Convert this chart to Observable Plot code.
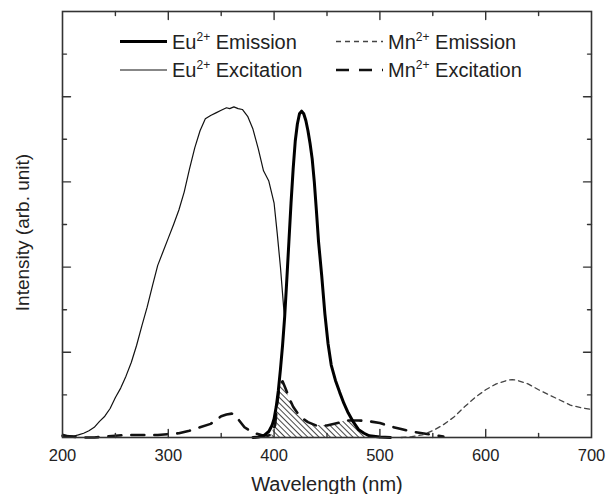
<!DOCTYPE html>
<html><head><meta charset="utf-8">
<script src="https://cdn.jsdelivr.net/npm/d3@7"></script>
<script src="https://cdn.jsdelivr.net/npm/@observablehq/plot@0.6"></script>
<style>body{margin:0;background:#fff}#chart{width:615px;height:494px}</style>
</head><body><div id="chart"></div>
<script>
// ---- data ----
const euExNm  = [200,205,210,215,220,225,230,235,240,245,250,255,260,265,270,275,280,285,290,295,300,305,310,315,320,325,330,335,340,345,350,355,358,362,366,370,375,380,385,390,395,400,403,406,409,410];
const euExVal = [0.04,0.02,0.015,0.03,0.05,0.08,0.12,0.19,0.25,0.34,0.47,0.58,0.72,0.88,1.08,1.31,1.53,1.78,2.02,2.18,2.34,2.5,2.67,2.88,3.15,3.4,3.6,3.74,3.78,3.81,3.84,3.87,3.86,3.88,3.86,3.85,3.77,3.62,3.39,3.13,3.01,2.75,2.39,2.0,1.53,1.42];

const euEmNm  = [380,385,390,395,398,400,402,404,406,408,410,412,414,416,418,420,422,424,426,428,430,432,434,436,438,440,442,445,448,451,454,458,462,466,470,475,480,485,490,500,510];
const euEmVal = [0,0.005,0.02,0.07,0.14,0.22,0.36,0.55,0.8,1.08,1.42,1.85,2.3,2.75,3.15,3.48,3.68,3.8,3.83,3.8,3.72,3.6,3.45,3.27,3.0,2.66,2.3,1.9,1.45,1.1,0.85,0.67,0.53,0.4,0.29,0.18,0.09,0.05,0.02,0.005,0];

const mnExNm  = [200,210,220,230,240,250,260,270,280,290,300,310,320,330,340,345,350,355,360,363,367,372,377,382,388,394,398,401,403,405,408,411,414,418,422,426,432,440,450,460,470,480,490,500,510,520,530,540,550,560];
const mnExVal = [0.02,0.01,0,0,0.01,0.02,0.03,0.03,0.03,0.03,0.04,0.05,0.08,0.12,0.16,0.2,0.25,0.27,0.28,0.27,0.2,0.12,0.08,0.05,0.03,0.02,0.04,0.15,0.4,0.6,0.66,0.57,0.47,0.36,0.29,0.23,0.18,0.14,0.14,0.17,0.2,0.2,0.19,0.17,0.13,0.1,0.07,0.05,0.03,0.01];

const mnEmNm  = [520,530,540,550,560,570,580,590,600,610,620,625,630,640,650,660,670,680,690,700];
const mnEmVal = [0,0.01,0.03,0.08,0.15,0.24,0.36,0.47,0.56,0.63,0.67,0.68,0.67,0.63,0.56,0.5,0.44,0.38,0.35,0.33];

const xTickLabels = [200,300,400,500,600,700];
const xMajorTicks = [300,400,500,600];
const xMinorTicks = [250,350,450,550,650];
const yMajorTicks = [1,2,3,4];
const yMinorTicks = [0.5,1.5,2.5,3.5,4.5];
const xTitle = "Wavelength (nm)";
const yTitle = "Intensity (arb. unit)";
const legendLabels = [
  {ion:"Eu", charge:"2+", name:" Emission"},
  {ion:"Eu", charge:"2+", name:" Excitation"},
  {ion:"Mn", charge:"2+", name:" Emission"},
  {ion:"Mn", charge:"2+", name:" Excitation"}
];

// ---- build tables ----
const rows = (nm, v) => nm.map((x, i) => ({x, y: v[i]}));
const euEx = rows(euExNm, euExVal);
const euEm = rows(euEmNm, euEmVal);
const mnEx = rows(mnExNm, mnExVal);
const mnEm = rows(mnEmNm, mnEmVal);

// overlap (hatched) = area under the lower of Eu emission and Mn excitation
const fEm = d3.scaleLinear().domain(euEmNm).range(euEmVal).clamp(true);
const fMn = d3.scaleLinear().domain(mnExNm).range(mnExVal).clamp(true);
const grid = Array.from(new Set([...euEmNm, ...mnExNm].filter(x => x >= 396 && x <= 495))).sort((a,b)=>a-b);
const overlap = grid.map(x => ({x, y: Math.min(fEm(x), fMn(x))}));

const styles = {
  euEm: {stroke:"#000", strokeWidth:3, strokeDasharray:null},
  euEx: {stroke:"#111", strokeWidth:1.2, strokeDasharray:null},
  mnEm: {stroke:"#444", strokeWidth:1.3, strokeDasharray:"5,4"},
  mnEx: {stroke:"#111", strokeWidth:2.6, strokeDasharray:"13,10"}
};

const shape = (dx, dy) => ({draw(ctx, l){ ctx.moveTo(0,0); ctx.lineTo(dx*l, dy*l); }});
const tickStyle = {stroke:"#333", strokeWidth:1.4, anchor:"start"};
const ticks = [];
for (const [vals, len] of [[xMajorTicks, 8],[xMinorTicks, 4]]) {
  ticks.push(Plot.vector(vals, {x: d=>d, frameAnchor:"bottom", length: len, shape: shape(0,-1), ...tickStyle}));
  ticks.push(Plot.vector(vals, {x: d=>d, frameAnchor:"top", length: len, shape: shape(0,1), ...tickStyle}));
}
for (const [vals, len] of [[yMajorTicks, 8],[yMinorTicks, 4]]) {
  ticks.push(Plot.vector(vals, {y: d=>d, frameAnchor:"left", length: len, shape: shape(1,0), ...tickStyle}));
  ticks.push(Plot.vector(vals, {y: d=>d, frameAnchor:"right", length: len, shape: shape(-1,0), ...tickStyle}));
}

const font = "'Liberation Sans', Arial, Helvetica, sans-serif";
const plot = Plot.plot({
  width: 615, height: 494,
  marginLeft: 62, marginRight: 24, marginTop: 11, marginBottom: 57,
  x: {domain: [200, 700], axis: null},
  y: {domain: [0, 5], axis: null},
  style: {fontFamily: font, background: "#fff", overflow: "visible"},
  marks: [
    Plot.areaY(overlap, {x:"x", y:"y", fill:"url(#hatch)"}),
    Plot.line(mnEx, {x:"x", y:"y", ...styles.mnEx}),
    Plot.line(mnEm, {x:"x", y:"y", ...styles.mnEm}),
    Plot.line(euEx, {x:"x", y:"y", ...styles.euEx}),
    Plot.line(euEm, {x:"x", y:"y", ...styles.euEm}),
    Plot.frame({stroke:"#333", strokeWidth:1.6}),
    ...ticks,
    Plot.text(xTickLabels, {x: d=>d, text: d=>String(d), frameAnchor:"bottom", dy:18, lineAnchor:"middle", textAnchor:"middle", fontSize:16.5, fill:"#222"}),
    Plot.text([xTitle], {text: d=>d, frameAnchor:"bottom", dy:47, lineAnchor:"middle", textAnchor:"middle", fontSize:20, fill:"#222"}),
    Plot.text([yTitle], {text: d=>d, frameAnchor:"left", dx:-40, dy:8, rotate:-90, lineAnchor:"middle", textAnchor:"middle", fontSize:19, fill:"#222"})
  ]
});

// hatch pattern
const svg = d3.select(plot);
const defs = svg.insert("defs", ":first-child");
const pat = defs.append("pattern").attr("id","hatch").attr("patternUnits","userSpaceOnUse")
  .attr("width",4).attr("height",4).attr("patternTransform","rotate(-45)");
pat.append("rect").attr("width",4).attr("height",4).attr("fill","#fff");
pat.append("line").attr("x1",0.5).attr("y1",0).attr("x2",0.5).attr("y2",4).attr("stroke","#333").attr("stroke-width",0.9);

// legend (inside the frame, top)
const legendKeys = ["euEm","euEx","mnEm","mnEx"];
const legendPos = [{x:120, y:41.5},{x:120, y:70},{x:336, y:41.5},{x:336, y:70}];
const lg = svg.append("g").attr("font-family", font).attr("fill","#222").attr("text-anchor","start");
legendLabels.forEach((d, i) => {
  const p = legendPos[i], s = styles[legendKeys[i]];
  lg.append("line").attr("x1",p.x).attr("x2",p.x+47).attr("y1",p.y).attr("y2",p.y)
    .attr("stroke",s.stroke).attr("stroke-width",s.strokeWidth)
    .attr("stroke-dasharray",s.strokeDasharray);
  const t = lg.append("text").attr("x",p.x+52).attr("y",p.y+7).attr("font-size",20).attr("text-anchor","start");
  t.append("tspan").text(d.ion);
  t.append("tspan").attr("dy",-8).attr("font-size",12).text(d.charge);
  t.append("tspan").attr("dy",8).text(d.name);
});

document.getElementById("chart").appendChild(plot);
</script>
</body></html>
